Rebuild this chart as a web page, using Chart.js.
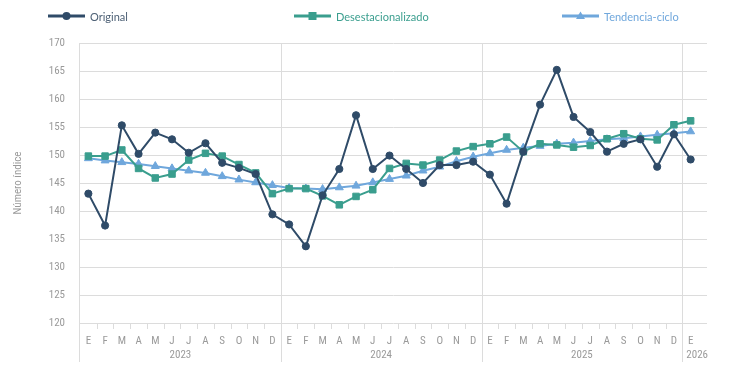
<!DOCTYPE html>
<html><head><meta charset="utf-8">
<script src="https://cdn.jsdelivr.net/npm/chart.js@4.4.1/dist/chart.umd.min.js"></script>
<style>
html,body{margin:0;padding:0;background:#fff;}
#wrap{position:relative;width:730px;height:366px;overflow:hidden;}
#c{position:absolute;left:0;top:0;}
.leg{position:absolute;top:9px;height:14px;display:flex;align-items:center;font-family:Lato,'Open Sans',sans-serif;font-size:11px;white-space:nowrap;}
.leg svg{margin-right:5px;display:block;}
</style></head><body>
<div id="wrap"><canvas id="c" width="730" height="366"></canvas><div id="legend"></div></div>
<script>
// ---- data ----
const monthLetters = ['E','F','M','A','M','J','J','A','S','O','N','D'];
const years = ['2023','2024','2025','2026'];
const categories = [
  'E','F','M','A','M','J','J','A','S','O','N','D',
  'E','F','M','A','M','J','J','A','S','O','N','D',
  'E','F','M','A','M','J','J','A','S','O','N','D',
  'E'
];
const seriesNames = ['Original','Desestacionalizado','Tendencia-ciclo'];
const original = [
  143.1,137.4,155.3,150.2,154.0,152.8,150.4,152.1,148.6,147.7,146.6,139.4,
  137.6,133.7,142.8,147.5,157.1,147.5,149.9,147.5,145.0,148.2,148.2,148.8,
  146.5,141.3,150.6,159.0,165.2,156.8,154.1,150.6,152.0,152.8,147.9,153.7,
  149.2
];
const desestacionalizado = [
  149.8,149.8,150.9,147.6,145.9,146.6,149.1,150.3,149.8,148.3,146.8,143.1,
  144.0,144.0,142.7,141.1,142.6,143.8,147.6,148.5,148.2,149.1,150.7,151.5,
  152.0,153.2,150.6,152.0,151.8,151.4,151.7,152.9,153.8,152.9,152.7,155.4,
  156.1
];
const tendenciaCiclo = [
  149.4,149.0,148.7,148.4,148.0,147.6,147.2,146.8,146.2,145.6,145.1,144.6,
  144.1,144.0,143.9,144.2,144.5,145.1,145.7,146.3,147.2,147.9,148.9,149.7,
  150.3,150.9,151.3,151.6,152.0,152.2,152.5,152.8,153.0,153.3,153.6,153.9,
  154.2
];
const yMin = 120, yMax = 170, yStep = 5;
const yTitle = 'Número índice';

// ---- styles ----
const colors = ['#2f4b68','#3a9e8e','#6fa7dc'];
const legendTextColors = ['#4d6075','#3a9e8e','#6fa7dc'];
const styles = ['circle','rect','triangle'];
const radii = [3.6,4.6,4.6];
const gridColor = '#dcdcdc';
const axisText = '#9a9a9a';
const tickFont = "'Liberation Sans Narrow','Roboto Condensed',Roboto,sans-serif";

const seriesData = [original, desestacionalizado, tendenciaCiclo];

// ---- legend (HTML) ----
const legendX = [48, 294, 562];
const legendEl = document.getElementById('legend');
seriesNames.forEach((name,i)=>{
  const d = document.createElement('div');
  d.className='leg';
  d.style.left = legendX[i]+'px';
  d.style.color = legendTextColors[i];
  let marker;
  if (styles[i]==='circle') marker = `<circle cx="18.5" cy="7" r="4" fill="${colors[i]}"/>`;
  else if (styles[i]==='rect') marker = `<rect x="14.5" y="3" width="8" height="8" fill="${colors[i]}"/>`;
  else marker = `<polygon points="18.5,2.5 23,10 14,10" fill="${colors[i]}"/>`;
  d.innerHTML = `<svg width="37" height="14"><line x1="0" y1="7" x2="37" y2="7" stroke="${colors[i]}" stroke-width="3"/>${marker}</svg><span>${name}</span>`;
  legendEl.appendChild(d);
});

// ---- custom axis decorations ----
const decor = {
  id:'decor',
  beforeDatasetsDraw(chart){
    const {ctx, chartArea:a, scales:{x,y}} = chart;
    ctx.save();
    ctx.strokeStyle = gridColor;
    ctx.lineWidth = 1;
    // horizontal gridlines
    y.ticks.forEach(t=>{
      const py = Math.round(y.getPixelForValue(t.value))+0.5;
      ctx.beginPath(); ctx.moveTo(a.left, py); ctx.lineTo(a.right+8, py); ctx.stroke();
    });
    // left border
    const lx = Math.round(a.left)-0.5;
    ctx.beginPath(); ctx.moveTo(lx, a.top); ctx.lineTo(lx, a.bottom+39); ctx.stroke();
    // month boundaries
    for (let i=1;i<categories.length;i++){
      const bx = Math.round((x.getPixelForValue(i-1)+x.getPixelForValue(i))/2)+0.5;
      ctx.beginPath();
      if (i%12===0){ ctx.moveTo(bx, a.top); ctx.lineTo(bx, a.bottom+39); }
      else { ctx.moveTo(bx, a.bottom); ctx.lineTo(bx, a.bottom+6); }
      ctx.stroke();
    }
    // year labels
    ctx.fillStyle = axisText;
    ctx.font = "11px "+tickFont;
    ctx.textBaseline = 'middle';
    years.forEach((yr,k)=>{
      const s = k*12, e = Math.min(k*12+11, categories.length-1);
      const left = s===0 ? a.left : (x.getPixelForValue(s-1)+x.getPixelForValue(s))/2;
      const cx = (x.getPixelForValue(s)+x.getPixelForValue(e))/2;
      const w = ctx.measureText(yr).width;
      if (e-s < 2){ ctx.textAlign='left'; ctx.fillText(yr, left+4, a.bottom+32); }
      else { ctx.textAlign='center'; ctx.fillText(yr, cx, a.bottom+32); }
    });
    ctx.restore();
  }
};

new Chart(document.getElementById('c'), {
  type:'line',
  data:{
    labels: categories,
    datasets: seriesNames.map((n,i)=>({
      label:n, data:seriesData[i],
      borderColor:colors[i], backgroundColor:colors[i],
      borderWidth:2, pointStyle:styles[i], pointRadius:radii[i],
      pointBorderWidth:1, pointBackgroundColor:colors[i], pointBorderColor:colors[i],
      tension:0, fill:false
    }))
  },
  options:{
    responsive:false, animation:false, devicePixelRatio:1,
    layout:{padding:{left:0,right:31,top:43,bottom:0}},
    plugins:{legend:{display:false}, tooltip:{enabled:false}},
    scales:{
      x:{
        offset:true,
        grid:{display:false, drawTicks:false},
        border:{display:false},
        ticks:{color:axisText, font:{family:tickFont,size:11}, autoSkip:false, maxRotation:0, padding:12},
        afterFit(s){ s.height = 43; }
      },
      y:{
        min:yMin, max:yMax,
        grid:{display:false, drawTicks:false},
        border:{display:false},
        ticks:{stepSize:yStep, color:axisText, font:{family:tickFont,size:11}, padding:15},
        title:{display:true, text:yTitle, color:axisText, font:{family:tickFont,size:11}, padding:{top:12,bottom:0}},
        afterFit(s){ s.width = 80; }
      }
    }
  },
  plugins:[decor]
});
</script>
</body></html>
